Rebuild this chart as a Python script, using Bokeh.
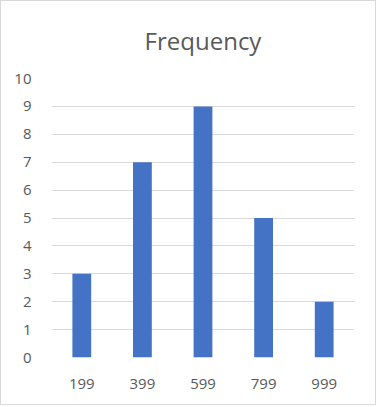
from bokeh.plotting import figure
from bokeh.models import FixedTicker
from bokeh.embed import file_html
from bokeh.resources import INLINE

categories = ["199", "399", "599", "799", "999"]
frequency = [3, 7, 9, 5, 2]
y_ticks = list(range(0, 11))
chart_title = "Frequency"

xs = list(range(len(categories)))

p = figure(width=376, height=405, output_backend="svg", toolbar_location=None,
           x_range=(-0.5, len(categories) - 0.5), y_range=(0, 10),
           min_border_left=50, min_border_right=23, min_border_top=77, min_border_bottom=49,
           title=chart_title)
p.styles = {"border": "1px solid #d9d9d9"}
p.outline_line_color = None
p.background_fill_color = "white"
p.border_fill_color = "white"

p.title.align = "center"
p.title.vertical_align = "top"
p.title.text_font = "Open Sans"
p.title.text_font_size = "24px"
p.title.text_font_style = "normal"
p.title.text_color = "#595959"
p.title.standoff = 40

p.vbar(x=xs, top=frequency, width=0.31, color="#4472C4", line_color=None)

p.xaxis.ticker = FixedTicker(ticks=xs)
p.xaxis.major_label_overrides = {i: c for i, c in enumerate(categories)}
p.yaxis.ticker = FixedTicker(ticks=y_ticks)

for ax in (p.xaxis, p.yaxis):
    ax.axis_line_color = None
    ax.major_tick_line_color = None
    ax.minor_tick_line_color = None
    ax.major_label_text_font = "Open Sans"
    ax.major_label_text_font_size = "15px"
    ax.major_label_text_color = "#595959"
p.yaxis.major_label_standoff = 14
p.xaxis.major_label_standoff = 15

p.xgrid.grid_line_color = None
p.ygrid.grid_line_color = "#d9d9d9"
p.ygrid.grid_line_width = 1
p.ygrid.ticker = FixedTicker(ticks=y_ticks)

open("out.html", "w").write(file_html(p, INLINE))
